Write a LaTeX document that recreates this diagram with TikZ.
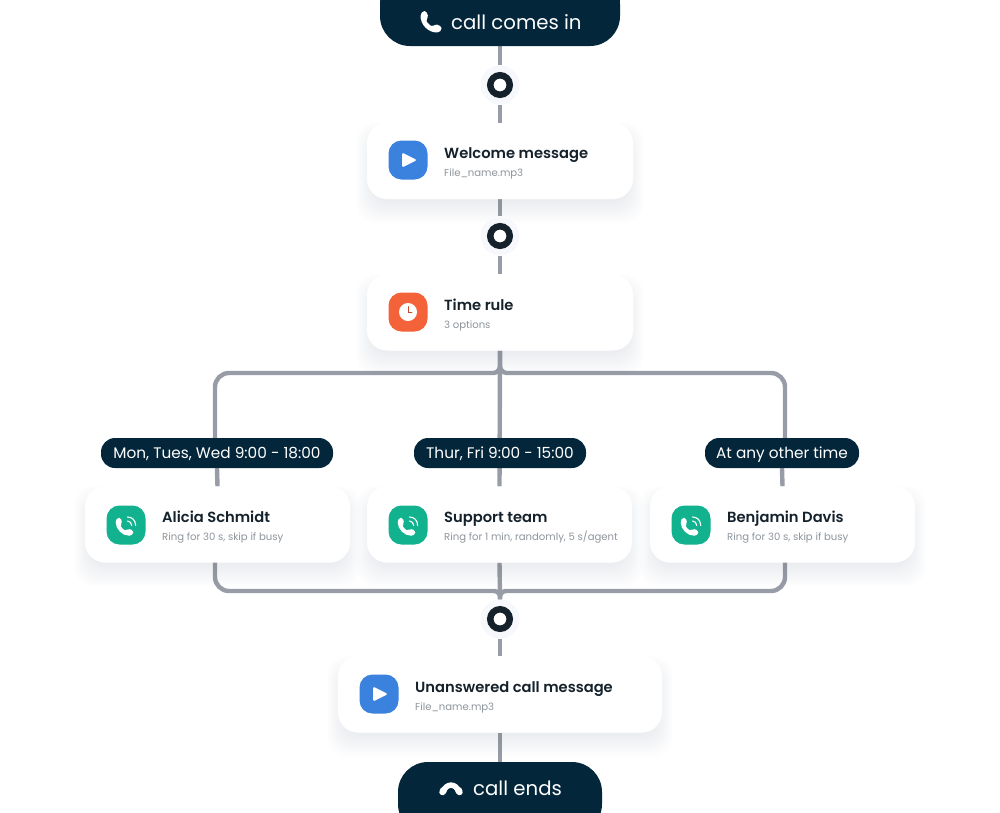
\documentclass[tikz,border=0pt]{standalone}
\usepackage{fontspec}
\setmainfont{Poppins}
\newfontfamily\medfont{Poppins SemiBold}
\usetikzlibrary{backgrounds}
\definecolor{navy}{HTML}{04263A}
\definecolor{ink}{HTML}{15222C}
\definecolor{greytxt}{HTML}{8E959C}
\definecolor{linegrey}{HTML}{989CA7}
\definecolor{halo}{HTML}{F6F8FB}
\definecolor{playblue}{HTML}{3A82DE}
\definecolor{clockred}{HTML}{F4623A}
\definecolor{ringgreen}{HTML}{12B28E}
\definecolor{shadowblue}{HTML}{5A6A85}
\newcommand{\softshadow}[1]{%
  \foreach \i in {0,...,9}{%
    \fill[shadowtint,rounded corners=20pt]
      ([xshift={4pt-1.6pt*\i},yshift={-4pt-2.2pt*\i}]#1.south west) rectangle ([xshift={-4pt+1.6pt*\i},yshift={-14pt+1.6pt*\i}]#1.north east);
  }}
\tikzset{
  x=1pt,y=-1pt,
  shadowtint/.style={fill=shadowblue,opacity=.011},
  card/.style={rectangle,fill=white,rounded corners=20pt,minimum height=76pt,inner sep=0pt},
  pill/.style={rectangle,fill=navy,rounded corners=#1,inner sep=0pt,text=white},
  daytag/.style={pill=14pt,minimum height=30pt,text height=11pt,text depth=0pt,text=white,font=\fontsize{15.3}{18}\selectfont},
  endcap/.style={pill=30pt},
  captext/.style={anchor=base west,inner sep=0pt,text=white,font=\fontsize{19.7}{24}\selectfont},
  title/.style={anchor=west,inner sep=0pt,text height=12pt,text depth=3pt,text=ink,font=\medfont\fontsize{14.7}{18}\selectfont},
  subtitle/.style={anchor=west,inner sep=0pt,text height=8pt,text depth=2pt,text=greytxt,font=\fontsize{10.1}{12}\selectfont},
  tile/.style={rectangle,rounded corners=13pt,minimum size=39pt,inner sep=0pt,fill=#1},
  halodisc/.style={circle,fill=halo,minimum size=39pt,inner sep=0pt},
  ringmark/.style={circle,draw=ink,fill=white,line width=6.5pt,minimum size=19.5pt,inner sep=0pt},
  wire/.style={draw=linegrey,line width=4.4pt},
}
\newcommand{\handsetshape}{%
  [rounded corners=1.6pt] (-8,-10.5) -- (-5,-10.5) -- (-2.5,-4.5) -- (-5,-2)
  .. controls (-4,1) and (-1,4) .. (2,5) -- (4.5,2.5) -- (10.5,5) -- (10.5,8.5)
  -- (7.5,11) .. controls (-3,11) and (-10.5,3) .. (-10.5,-7) -- cycle}
\newcommand{\playglyph}[1]{\fill[white,rounded corners=1.5pt] ([shift={(-6,-7.5)}]#1.center) -- ([shift={(9,0)}]#1.center) -- ([shift={(-6,7.5)}]#1.center) -- cycle;}
\newcommand{\ringglyph}[1]{%
  \begin{scope}[shift={(#1.center)}]
    \begin{scope}[shift={(-1.5,1.5)},scale=.84]
      \fill[white] \handsetshape;
    \end{scope}
    \draw[white,line width=1.1pt,line cap=round] (1.5,-4) .. controls (4,-4) and (5.5,-2) .. (5.7,0.5);
    \draw[white,line width=1.1pt,line cap=round] (1.5,-8) .. controls (6,-8) and (9.5,-5) .. (9.7,0.5);
  \end{scope}}
\begin{document}
\begin{tikzpicture}
\useasboundingbox (0,0) rectangle (1000,812);
\clip (0,0) rectangle (1000,812);

% pills
\node[endcap,minimum width=240pt,minimum height=72pt] (start) at (500,10) {};
\node[captext] (starttext) at (451,29) {call comes in};
\node[endcap,minimum width=204pt,minimum height=72pt] (stop) at (500,798) {};
\node[captext] (stoptext) at (473,795) {call ends};

% rings
\node[halodisc] (h1) at (500,85) {};
\node[ringmark] (r1) at (500,85) {};
\node[halodisc] (h2) at (500,236) {};
\node[ringmark] (r2) at (500,236) {};
\node[halodisc] (h3) at (500,619) {};
\node[ringmark] (r3) at (500,619) {};

% cards
\node[card,minimum width=266pt] (welcome) at (500,161) {};
\node[card,minimum width=266pt] (timerule) at (500,312.5) {};
\node[card,minimum width=265pt] (alicia) at (217.5,524.5) {};
\node[card,minimum width=265pt] (support) at (499.5,524.5) {};
\node[card,minimum width=265pt] (benjamin) at (782.5,524.5) {};
\node[card,minimum width=324pt] (unanswered) at (500,694.5) {};

% day tags
\node[daytag,minimum width=232pt] (mon) at (217,453) {Mon, Tues, Wed 9:00 - 18:00};
\node[daytag,minimum width=172pt] (thu) at (500,453) {Thur, Fri 9:00 - 15:00};
\node[daytag,minimum width=154pt] (other) at (782,453) {At any other time};

% icon tiles
\node[tile=playblue] (i1) at (408,160) {};
\node[tile=clockred] (i2) at (408,312) {};
\node[tile=ringgreen] (i3) at (126,525) {};
\node[tile=ringgreen] (i4) at (408,525) {};
\node[tile=ringgreen] (i5) at (691,525) {};
\node[tile=playblue] (i6) at (379,694) {};
\playglyph{i1}
\playglyph{i6}
\ringglyph{i3}
\ringglyph{i4}
\ringglyph{i5}
\fill[white] (i2.center) circle (9);
\draw[clockred!80!black,line width=.8pt,line cap=round] ([yshift=5.5pt]i2.center) -- (i2.center) -- ([xshift=4pt]i2.center);

% card text
\node[title] (t1) at (444,153.5) {Welcome message};
\node[subtitle] (s1) at (444,173) {File\_name.mp3};
\node[title] (t2) at (444,305.5) {Time rule};
\node[subtitle] (s2) at (444,325) {3 options};
\node[title] (t3) at (162,518) {Alicia Schmidt};
\node[subtitle] (s3) at (162,537) {Ring for 30 s, skip if busy};
\node[title] (t4) at (444,518) {Support team};
\node[subtitle] (s4) at (444,537) {Ring for 1 min, randomly, 5 s/agent};
\node[title] (t5) at (727,518) {Benjamin Davis};
\node[subtitle] (s5) at (727,537) {Ring for 30 s, skip if busy};
\node[title] (t6) at (415,688) {Unanswered call message};
\node[subtitle] (s6) at (415,707) {File\_name.mp3};

% phone glyphs
\begin{scope}[shift={(431,21.5)}]
  \fill[white] \handsetshape;
\end{scope}
\draw[white,line width=5.5pt,line cap=round] (443.5,791.5) .. controls (446,783) and (456,783) .. (458.5,791.5);
\draw[white,line width=6.5pt,line cap=round] (442.5,792) -- (443.5,790);
\draw[white,line width=6.5pt,line cap=round] (459.5,792) -- (458.5,790);

% connector anchors
\coordinate (busTop) at (500,373);
\coordinate (busLeft) at (215,373);
\coordinate (busRight) at (785,373);
\coordinate (monDrop) at (215,445);
\coordinate (otherDrop) at (785,445);
\coordinate (lowLeft) at (215,591);
\coordinate (lowRight) at (785,591);
\coordinate (lowMid) at (500,591);
\coordinate (aliciaOut) at (215,555);
\coordinate (benjaminOut) at (785,555);

\begin{pgfonlayer}{background}
  \draw[wire] (start) -- (h1);
  \draw[wire] (h1) -- (welcome);
  \draw[wire] (welcome) -- (h2);
  \draw[wire] (h2) -- (timerule);
  \draw[wire] (timerule.south) [rounded corners=7pt] -- (busTop) [rounded corners=14pt] -- (busLeft) -- (monDrop);
  \draw[wire] (timerule.south) [rounded corners=7pt] -- (busTop) [rounded corners=14pt] -- (busRight) -- (otherDrop);
  \draw[wire] (timerule.south) -- (support.north);
  \draw[wire] (mon.south) -- (alicia.north);
  \draw[wire] (other.south) -- (benjamin.north);
  \draw[wire] (aliciaOut) [rounded corners=14pt] -- (lowLeft) [rounded corners=6pt] -- (lowMid) -- (h3.north);
  \draw[wire] (benjaminOut) [rounded corners=14pt] -- (lowRight) [rounded corners=6pt] -- (lowMid) -- (h3.north);
  \draw[wire] (support.south) -- (h3.north);
  \draw[wire] (h3) -- (unanswered);
  \draw[wire] (unanswered) -- (stop);
  \softshadow{welcome}
  \softshadow{timerule}
  \softshadow{alicia}
  \softshadow{support}
  \softshadow{benjamin}
  \softshadow{unanswered}
\end{pgfonlayer}
\end{tikzpicture}
\end{document}
